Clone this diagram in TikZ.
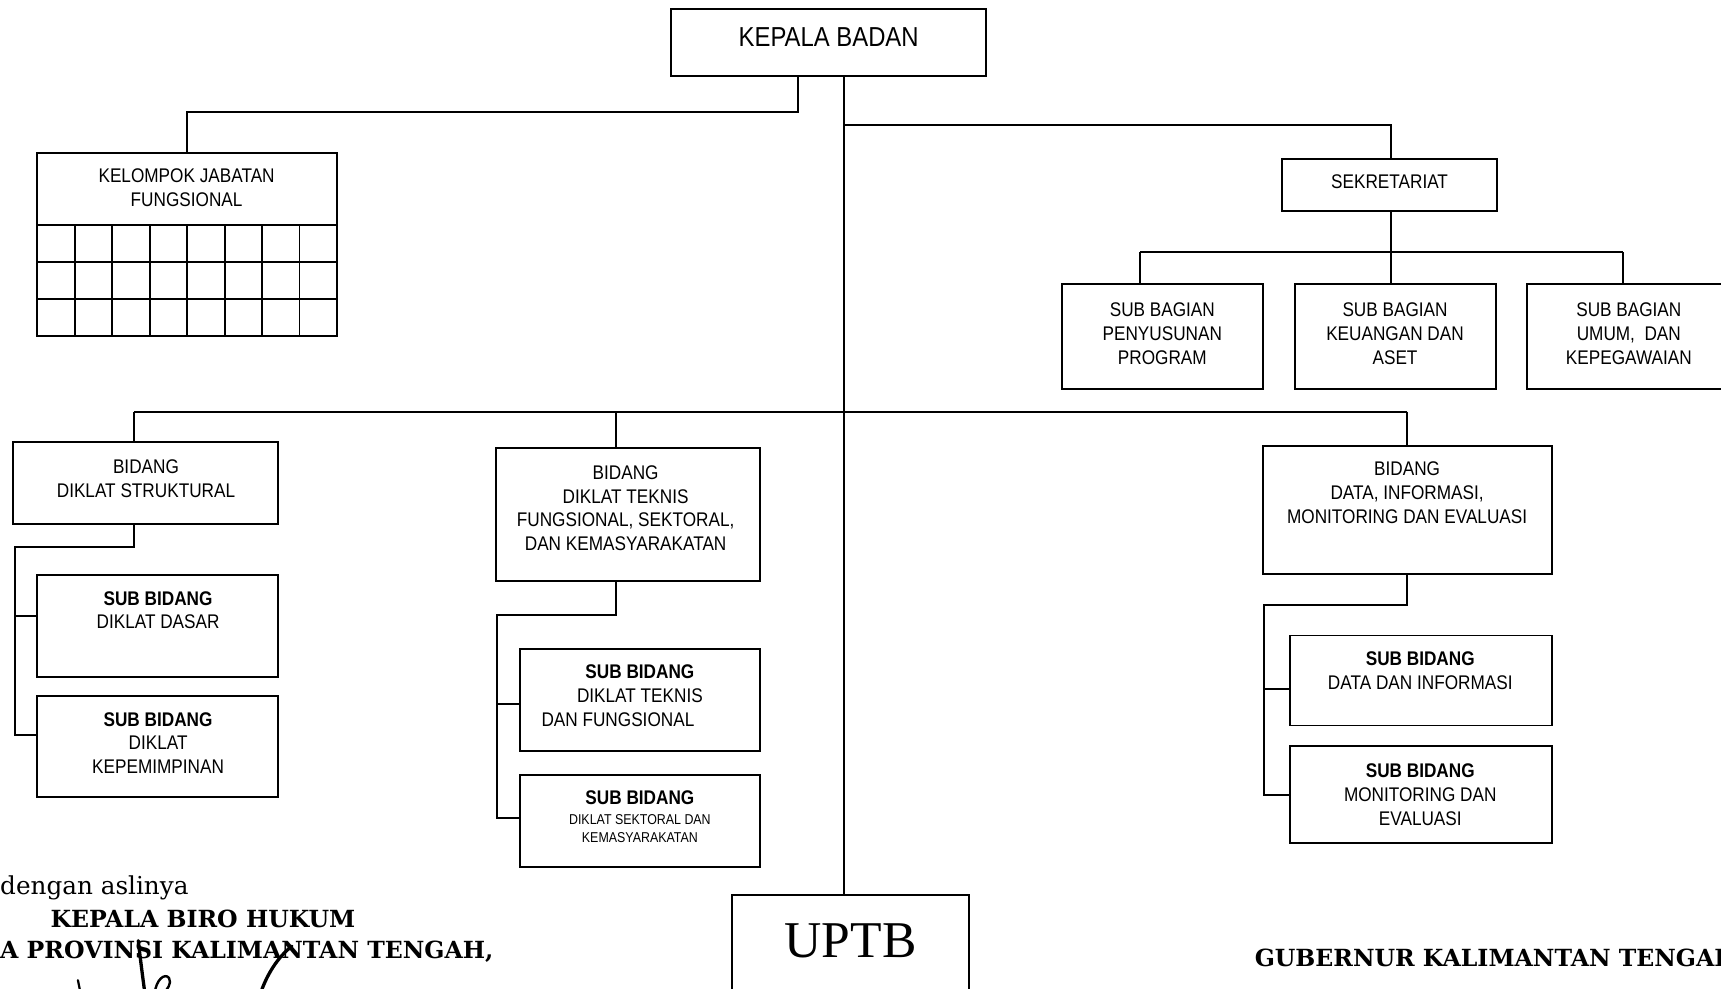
\documentclass[tikz,border=0pt]{standalone}
\usepackage{fontspec}
\newfontfamily\ar{Liberation Sans}[FakeStretch=0.87]
\newfontfamily\bk{DejaVu Serif}
\newfontfamily\tnr{Liberation Serif}
\newcommand\bx[5]{\node[box, minimum width={#4-#2}, minimum height={#5-#3}] (#1) at ({(#2+#4)/2},{(#3+#5)/2}) {};}
\begin{document}
\begin{tikzpicture}[x=1pt,y=-1pt,
  box/.style={draw,line width=1.8pt,rectangle,inner sep=0pt},
  ln/.style={line width=1.8pt},
  txt/.style={align=center,inner sep=0pt,font=\ar\fontsize{18}{21.7}\selectfont},
  btxt/.style={inner sep=0pt,font=\ar\bfseries\fontsize{18}{21.7}\selectfont},
  small/.style={align=center,inner sep=0pt,font=\ar\fontsize{13}{16}\selectfont},
  big/.style={inner sep=0pt,font=\ar\fontsize{25}{30}\selectfont},
  sigtxt/.style={inner sep=0pt,font=\bk\fontsize{22.5}{26}\selectfont},
  sigbold/.style={inner sep=0pt,font=\bk\bfseries\fontsize{21.5}{26}\selectfont},
  sig/.style={line width=3pt,line cap=round,line join=round}]
\useasboundingbox (0,0) rectangle (1568,901);
\clip (0,0) rectangle (1568,901);
\fill[white] (0,0) rectangle (1568,901);

% boxes
\bx{kb}{611}{8}{898}{69}
\bx{kjf}{34}{139}{307}{306}
\bx{sek}{1168}{145}{1364}{192}
\bx{sb1}{968}{259}{1151}{354}
\bx{sb2}{1180}{259}{1363}{354}
\bx{sb3}{1391}{259}{1577}{354}
\bx{bds}{12}{403}{253}{477}
\bx{sds1}{34}{524}{253}{617}
\bx{sds2}{34}{634}{253}{726}
\bx{bdt}{452}{408}{692}{529}
\bx{sdt1}{474}{591}{692}{684}
\bx{sdt2}{474}{706}{692}{790}
\bx{bdd}{1151}{406}{1414}{523}
\bx{sdd1}{1175}{579}{1414}{661}
\bx{sdd2}{1175}{680}{1414}{768}
\bx{uptb}{667}{815}{883}{915}

% grid of kelompok jabatan
\foreach \yy in {205,239,272} \draw[ln] (34,\yy) -- (307,\yy);
\foreach \i in {1,...,7} \draw[ln] ({34+\i*34.125},205) -- ({34+\i*34.125},306);

% texts
\node[big] (tkb) at (755,34) {KEPALA BADAN};
\node[txt] (tkjf) at (170,171) {KELOMPOK JABATAN\\FUNGSIONAL};
\node[txt] (tsek) at (1266,166) {SEKRETARIAT};
\node[txt] (tsb1) at (1059,304) {SUB BAGIAN\\PENYUSUNAN\\PROGRAM};
\node[txt] (tsb2) at (1271,304) {SUB BAGIAN\\KEUANGAN DAN\\ASET};
\node[txt] (tsb3) at (1484,304) {SUB BAGIAN\\UMUM,\ \ DAN\\KEPEGAWAIAN};
\node[txt] (tbds) at (133,436) {BIDANG\\DIKLAT STRUKTURAL};
\node[txt] (tsds1) at (144,556) {{\bfseries SUB BIDANG}\\DIKLAT DASAR};
\node[txt] (tsds2) at (144,677) {{\bfseries SUB BIDANG}\\DIKLAT\\KEPEMIMPINAN};
\node[txt] (tbdt) at (570,463) {BIDANG\\DIKLAT TEKNIS\\FUNGSIONAL, SEKTORAL,\\DAN KEMASYARAKATAN};
\node[txt] (tsdt1) at (583,634) {{\bfseries SUB BIDANG}\\DIKLAT TEKNIS\\DAN FUNGSIONAL\hspace*{40pt}};
\node[btxt] (tsdt2a) at (583,727) {SUB BIDANG};
\node[small] (tsdt2b) at (583,755) {DIKLAT SEKTORAL DAN\\KEMASYARAKATAN};
\node[txt] (tbdd) at (1282,449) {BIDANG\\DATA, INFORMASI,\\MONITORING DAN EVALUASI};
\node[txt] (tsdd1) at (1294,611) {{\bfseries SUB BIDANG}\\DATA DAN INFORMASI};
\node[txt] (tsdd2) at (1294,724) {{\bfseries SUB BIDANG}\\MONITORING DAN\\EVALUASI};
\node[inner sep=0pt,font=\tnr\fontsize{47}{50}\selectfont] (tup) at (775,857) {UPTB};

% connectors
\coordinate (tr) at (769,0);
\coordinate (c1) at (727,102);
\coordinate (c2) at (769,114);
\coordinate (h1) at (1039,230);
\coordinate (h2) at (1479,230);
\coordinate (hs) at (1267,230);
\coordinate (b1) at (122,375);
\coordinate (b2) at (561,375);
\coordinate (b3) at (1282,375);
\draw[ln] (kb.south -| tr) -- (uptb.north -| tr);
\draw[ln] (kb.south -| c1) -- (c1) -| (kjf.north);
\draw[ln] (c2) -| (sek.north -| hs);
\draw[ln] (sek.south -| hs) -- (sb2.north -| hs);
\draw[ln] (h1) -- (h2);
\draw[ln] (h1) -- (sb1.north -| h1);
\draw[ln] (h2) -- (sb3.north -| h2);
\draw[ln] (b1) -- (b3);
\draw[ln] (b1) -- (bds.north -| b1);
\draw[ln] (b2) -- (bdt.north -| b2);
\draw[ln] (b3) -- (bdd.north -| b3);

% struktural subs
\coordinate (s1) at (122,498);
\coordinate (s2) at (14,498);
\coordinate (s3) at (14,561);
\coordinate (s4) at (14,670);
\draw[ln] (bds.south -| s1) -- (s1) -- (s2) -- (s4) -- (sds2.west |- s4);
\draw[ln] (s3) -- (sds1.west |- s3);

% teknis subs
\coordinate (t1) at (561,560);
\coordinate (t2) at (453,560);
\coordinate (t3) at (453,641);
\coordinate (t4) at (453,745);
\draw[ln] (bdt.south -| t1) -- (t1) -- (t2) -- (t4) -- (sdt2.west |- t4);
\draw[ln] (t3) -- (sdt1.west |- t3);

% data subs
\coordinate (d1) at (1282,551);
\coordinate (d2) at (1152,551);
\coordinate (d3) at (1152,628);
\coordinate (d4) at (1152,724);
\draw[ln] (bdd.south -| d1) -- (d1) -- (d2) -- (d4) -- (sdd2.west |- d4);
\draw[ln] (d3) -- (sdd1.west |- d3);

% bottom texts
\node[sigtxt,anchor=base west] (dg) at (0,815) {dengan aslinya};
\node[sigbold,anchor=base west] (kbh) at (46,845) {KEPALA BIRO HUKUM};
\node[sigbold,anchor=base west] (prov) at (0,873) {A PROVINSI KALIMANTAN TENGAH,};
\node[sigbold,anchor=base west] (gub) at (1143,881) {GUBERNUR KALIMANTAN TENGAH,};

% signature
\draw[sig] (126,857) .. controls (128,875) and (130,890) .. (132,905);
\draw[sig,line width=2.2pt] (141,905) .. controls (142,893) and (150,886) .. (154,891) .. controls (157,896) and (152,902) .. (148,906);
\draw[sig] (266,862) .. controls (253,872) and (243,888) .. (237,906);
\draw[sig,line width=2pt] (71,893) -- (73,903);
\end{tikzpicture}
\end{document}
